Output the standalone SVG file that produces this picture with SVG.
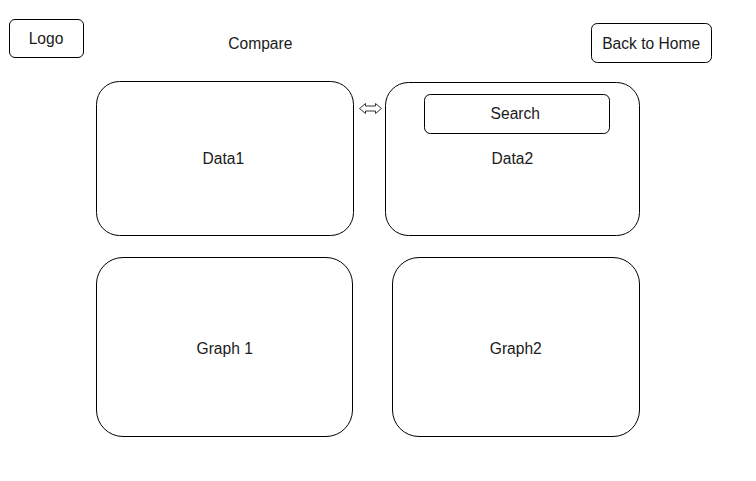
<svg xmlns="http://www.w3.org/2000/svg" width="756" height="481" viewBox="0 0 756 481">
<style>
.box{fill:#fff;stroke:#000;stroke-width:1}
.lbl{font-family:"Liberation Sans",Arial,sans-serif;font-size:15.6px;fill:#1a1a1a;text-anchor:middle}
.arr{fill:#fff;stroke:#333;stroke-width:1}
</style>
<rect width="756" height="481" fill="#fff"/>
<g id="logo"><rect class="box" x="9.5" y="19.5" width="74" height="38" rx="5.5"/><text class="lbl" x="46" y="43.5">Logo</text></g>
<g id="compare"><text class="lbl" x="260.3" y="49">Compare</text></g>
<g id="back-home"><rect class="box" x="591.5" y="23.5" width="120" height="39" rx="5.8"/><text class="lbl" x="651.2" y="49">Back to Home</text></g>
<g id="data1"><rect class="box" x="96.5" y="81.5" width="257" height="154" rx="23"/><text class="lbl" x="223.3" y="163.5">Data1</text></g>
<g id="data2"><rect class="box" x="385.5" y="82.5" width="254" height="153" rx="23"/><text class="lbl" x="512.3" y="164">Data2</text></g>
<g id="search"><rect class="box" x="424.5" y="94.5" width="185" height="39" rx="5.8"/><text class="lbl" x="515.3" y="119">Search</text></g>
<g id="graph1"><rect class="box" x="96.5" y="257.5" width="256" height="179" rx="26.5"/><text class="lbl" x="224.7" y="354">Graph 1</text></g>
<g id="graph2"><rect class="box" x="392.5" y="257.5" width="247" height="179" rx="26.5"/><text class="lbl" x="515.8" y="354">Graph2</text></g>
<g id="connectors"><polygon class="arr" points="359.5,108.5 365.5,103.5 365.5,106 375.5,106 375.5,103.5 381.5,108.5 375.5,113.5 375.5,111 365.5,111 365.5,113.5"/></g>
</svg>
